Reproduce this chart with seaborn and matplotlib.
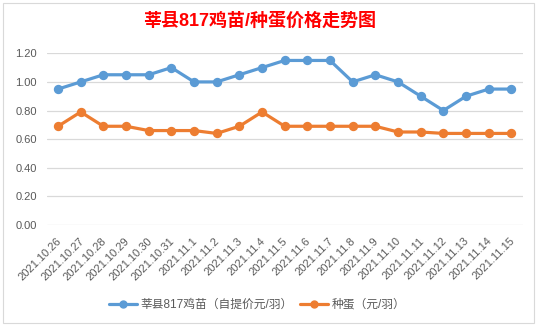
import matplotlib
matplotlib.use("Agg")
import matplotlib.pyplot as plt
import matplotlib.transforms as mtransforms
from matplotlib.lines import Line2D
from matplotlib.patches import Rectangle
import seaborn as sns
import pandas as pd

dates = ["2021.10.26", "2021.10.27", "2021.10.28", "2021.10.29", "2021.10.30",
         "2021.10.31", "2021.11.1", "2021.11.2", "2021.11.3", "2021.11.4",
         "2021.11.5", "2021.11.6", "2021.11.7", "2021.11.8", "2021.11.9",
         "2021.11.10", "2021.11.11", "2021.11.12", "2021.11.13", "2021.11.14",
         "2021.11.15"]
chick_price = [0.95, 1.00, 1.05, 1.05, 1.05, 1.10, 1.00, 1.00, 1.05, 1.10,
               1.15, 1.15, 1.15, 1.00, 1.05, 1.00, 0.90, 0.80, 0.90, 0.95, 0.95]
egg_price = [0.69, 0.79, 0.69, 0.69, 0.66, 0.66, 0.66, 0.64, 0.69, 0.79,
             0.69, 0.69, 0.69, 0.69, 0.69, 0.65, 0.65, 0.64, 0.64, 0.64, 0.64]
series_names = ["莘县817鸡苗（自提价元/羽）", "种蛋（元/羽）"]
yticks = [0.00, 0.20, 0.40, 0.60, 0.80, 1.00, 1.20]
title = "莘县817鸡苗/种蛋价格走势图"

colors = ["#5B9BD5", "#ED7D31"]

sns.set_theme(style="white")
plt.rcParams['font.family'] = ['Liberation Sans', 'Noto Sans CJK SC', 'DejaVu Sans']

df = pd.DataFrame({
    "date": dates * 2,
    "price": chick_price + egg_price,
    "series": [series_names[0]] * len(dates) + [series_names[1]] * len(dates),
})

W, H = 541, 327
fig = plt.figure(figsize=(W / 100, H / 100), dpi=100)
fig.patch.set_facecolor("white")
ax = fig.add_axes([46.7 / W, 1 - 225 / H, (522.7 - 46.7) / W, (225 - 53.3) / H])

sns.pointplot(data=df, x="date", y="price", hue="series", palette=colors,
              order=dates, hue_order=series_names, markers="o",
              markersize=5, linewidth=2.3, ax=ax, legend=False)

ax.set_xlim(-0.5, len(dates) - 0.5)
ax.set_ylim(0, 1.2)
ax.set_yticks(yticks)
ax.set_yticklabels([f"{v:.2f}" for v in yticks], fontsize=8, color="#595959")
ax.grid(axis="y", color="#D9D9D9", linewidth=0.9)
ax.set_axisbelow(True)
for s in ax.spines.values():
    s.set_visible(False)
ax.tick_params(axis="both", length=0)
ax.tick_params(axis="y", pad=7)
ax.set_xlabel("")
ax.set_ylabel("")
ax.set_xticks(range(len(dates)))
ax.set_xticklabels(dates, rotation=45, ha="right", va="top", fontsize=8, color="#595959")
offset = mtransforms.ScaledTranslation(5 / 100, -6 / 100, fig.dpi_scale_trans)
for lbl in ax.get_xticklabels():
    lbl.set_transform(lbl.get_transform() + offset)

fig.text(260 / W, 1 - 21 / H, title, ha="center", va="center", fontsize=13,
         fontweight="bold", color="#FF0000")

handles = [Line2D([0], [0], color=c, linewidth=2.3, marker="o", markersize=5) for c in colors]
fig.legend(handles, series_names, loc="center", bbox_to_anchor=(257 / W, 1 - 305 / H),
           ncol=2, frameon=False, fontsize=8.5, handlelength=2.4, columnspacing=0.6,
           handletextpad=0.3, labelcolor="#595959")

fig.add_artist(Rectangle((2.5 / W, 1 - 323 / H), (534 - 2.5) / W, (323 - 3) / H,
                         transform=fig.transFigure, fill=False, edgecolor="#D9D9D9",
                         linewidth=0.8))

fig.savefig("out.png", dpi=100, facecolor="white")
